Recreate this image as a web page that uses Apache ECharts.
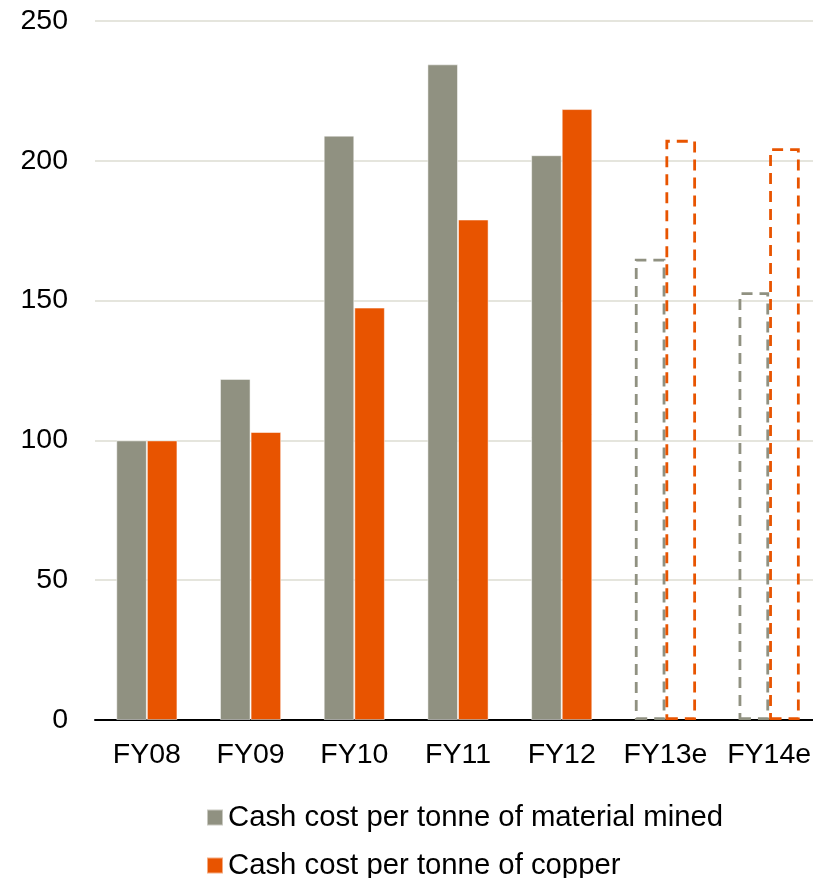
<!DOCTYPE html>
<html>
<head>
<meta charset="utf-8">
<script src="https://cdn.jsdelivr.net/npm/echarts@6/dist/echarts.min.js"></script>
<style>html,body{margin:0;padding:0;background:#fff;overflow:hidden;width:813px;height:878px}#c{width:821px;height:878px}</style>
</head>
<body>
<div id="c"></div>
<script>
var categories = ['FY08','FY09','FY10','FY11','FY12','FY13e','FY14e'];
var materialMined = [100, 122, 209, 234.5, 202, 165, 153];
var copper = [100, 103, 147.5, 179, 218.5, 207.5, 204.5];
var isEstimate = [false, false, false, false, false, true, true];
var seriesNames = ['Cash cost per tonne of material mined', 'Cash cost per tonne of copper'];
var yTicks = {min: 0, max: 250, interval: 50};

var grey = '#909181', orange = '#E85400';
function build(vals, col) {
  return vals.map(function (v, i) {
    if (isEstimate[i]) {
      return {value: v, itemStyle: {color: 'rgba(255,255,255,0)', borderColor: col, borderType: [11, 7], borderWidth: 2.8}};
    }
    return {value: v};
  });
}
var font = 'Liberation Sans, Arial, sans-serif';
function legendFor(name, top) {
  return {
    left: 206, top: top, padding: 0,
    itemWidth: 16, itemHeight: 16, icon: 'rect', itemGap: 0,
    textStyle: {fontFamily: font, fontSize: 29.3, color: '#000'},
    data: [name]
  };
}
var chart = echarts.init(document.getElementById('c'));
chart.setOption({
  animation: false,
  grid: {left: 95, right: 0, top: 21, bottom: 158},
  legend: [legendFor(seriesNames[0], 803), legendFor(seriesNames[1], 851)],
  xAxis: {
    type: 'category', data: categories,
    axisLine: {lineStyle: {color: '#000', width: 2}},
    axisTick: {show: false},
    axisLabel: {fontFamily: font, fontSize: 28.5, color: '#000', margin: 21, interval: 0}
  },
  yAxis: {
    type: 'value', min: yTicks.min, max: yTicks.max, interval: yTicks.interval,
    axisLine: {show: false}, axisTick: {show: false},
    axisLabel: {fontFamily: font, fontSize: 28.5, color: '#000', margin: 27},
    splitLine: {lineStyle: {color: '#dcdcd2', width: 1.5}}
  },
  series: [
    {name: seriesNames[0], type: 'bar', data: build(materialMined, grey), barGap: '0%', barCategoryGap: '41%',
     itemStyle: {color: grey, borderColor: 'rgba(255,255,255,0.5)', borderWidth: 1}},
    {name: seriesNames[1], type: 'bar', data: build(copper, orange), barGap: '0%', barCategoryGap: '41%',
     itemStyle: {color: orange, borderColor: 'rgba(255,255,255,0.5)', borderWidth: 1}}
  ]
});
</script>
</body>
</html>
